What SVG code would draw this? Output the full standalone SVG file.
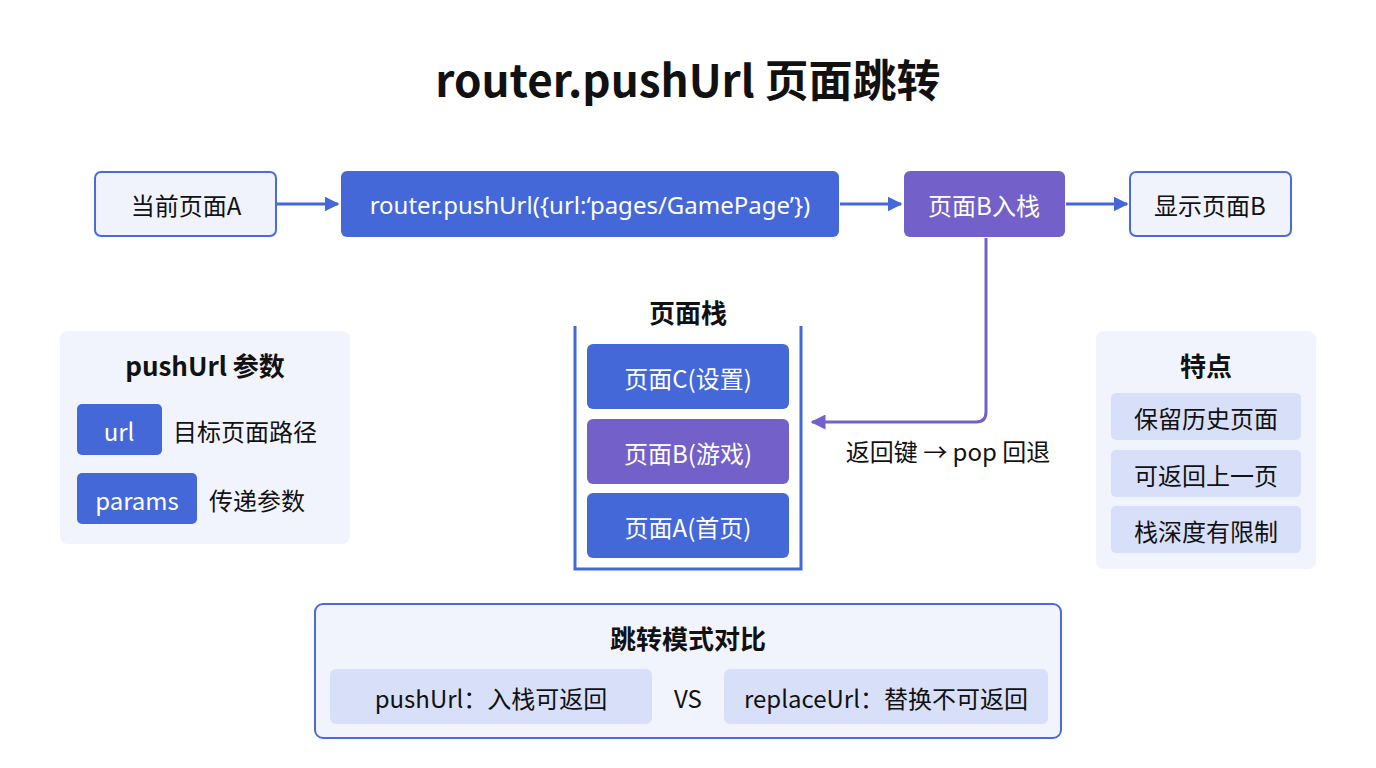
<svg xmlns="http://www.w3.org/2000/svg" width="1376" height="768" viewBox="0 0 1376 768">
<style>
text{font-family:"Noto Sans CJK SC","Noto Sans",sans-serif;text-anchor:middle;dominant-baseline:central}
.w{fill:#fff;font-size:24px}
.k{fill:#111;font-size:24px}
.h{fill:#111;font-size:26px;font-weight:bold}
.l{text-anchor:start}
.blue{fill:#4468d8}
.purp{fill:#7360c8}
.lt{fill:#f0f3fc;stroke:#4a6cd4;stroke-width:2}
.panel{fill:#f1f4fc}
.chip{fill:#d8dff8}
</style>
<defs>
<marker id="ab" viewBox="0 0 10 10" refX="9" refY="5" markerWidth="5" markerHeight="5" orient="auto"><path d="M0,0L10,5L0,10z" fill="#4468d8"/></marker>
<marker id="ap" viewBox="0 0 10 10" refX="9" refY="5" markerWidth="5" markerHeight="5" orient="auto"><path d="M0,0L10,5L0,10z" fill="#7360c8"/></marker>
</defs>
<rect width="1376" height="768" fill="#fff"/>
<text x="688" y="78" style="font-size:44px;font-weight:bold;fill:#111">router.pushUrl 页面跳转</text>
<g id="connectors" fill="none" stroke-width="3">
<path d="M277 204H338" stroke="#4468d8" marker-end="url(#ab)"/>
<path d="M840 204H901" stroke="#4468d8" marker-end="url(#ab)"/>
<path d="M1066 204H1127" stroke="#4468d8" marker-end="url(#ab)"/>
<path d="M986 238V412Q986 422 976 422H812" stroke="#7360c8" marker-end="url(#ap)"/>
</g>
<text x="948" y="450" class="k">返回键 → pop 回退</text>
<g id="nodeA"><rect x="95" y="172" width="181" height="64" rx="6" class="lt"/><text x="186" y="204" class="k">当前页面A</text></g>
<g id="push"><rect x="341" y="171" width="498" height="66" rx="6" class="blue"/><text x="590" y="204" class="w" style="font-family:'Noto Sans',sans-serif">router.pushUrl({url:‘pages/GamePage’})</text></g>
<g id="nodeB"><rect x="904" y="171" width="161" height="66" rx="6" class="purp"/><text x="984" y="204" class="w">页面B入栈</text></g>
<g id="showB"><rect x="1130" y="172" width="161" height="64" rx="6" class="lt"/><text x="1210" y="204" class="k">显示页面B</text></g>
<g id="params">
<rect x="60" y="331" width="290" height="213" rx="8" class="panel"/>
<text x="205" y="364" class="h">pushUrl 参数</text>
<rect x="77" y="404" width="85" height="51" rx="5" class="blue"/><text x="119" y="430" class="w">url</text>
<text x="173" y="430" class="k l">目标页面路径</text>
<rect x="77" y="473" width="120" height="51" rx="5" class="blue"/><text x="137" y="499" class="w">params</text>
<text x="209" y="499" class="k l">传递参数</text>
</g>
<g id="stack">
<text x="688" y="311" class="h">页面栈</text>
<path d="M575 326V569H801V326" fill="none" stroke="#4468d8" stroke-width="3"/>
<rect x="587" y="344" width="202" height="65" rx="6" class="blue"/><text x="688" y="377" class="w">页面C(设置)</text>
<rect x="587" y="419" width="202" height="65" rx="6" class="purp"/><text x="688" y="452" class="w">页面B(游戏)</text>
<rect x="587" y="493" width="202" height="65" rx="6" class="blue"/><text x="688" y="526" class="w">页面A(首页)</text>
</g>
<g id="features">
<rect x="1096" y="331" width="220" height="238" rx="8" class="panel"/>
<text x="1206" y="364" class="h">特点</text>
<rect x="1111" y="393" width="190" height="47" rx="5" class="chip"/><text x="1206" y="417" class="k">保留历史页面</text>
<rect x="1111" y="450" width="190" height="47" rx="5" class="chip"/><text x="1206" y="474" class="k">可返回上一页</text>
<rect x="1111" y="506" width="190" height="47" rx="5" class="chip"/><text x="1206" y="530" class="k">栈深度有限制</text>
</g>
<g id="compare">
<rect x="315" y="604" width="746" height="134" rx="8" fill="#f1f4fc" stroke="#4a6cd4" stroke-width="2"/>
<text x="688" y="637" class="h">跳转模式对比</text>
<rect x="330" y="669" width="322" height="55" rx="6" class="chip"/><text x="491" y="697" class="k">pushUrl：入栈可返回</text>
<text x="688" y="697" class="k">VS</text>
<rect x="724" y="669" width="324" height="55" rx="6" class="chip"/><text x="886" y="697" class="k">replaceUrl：替换不可返回</text>
</g>
</svg>
